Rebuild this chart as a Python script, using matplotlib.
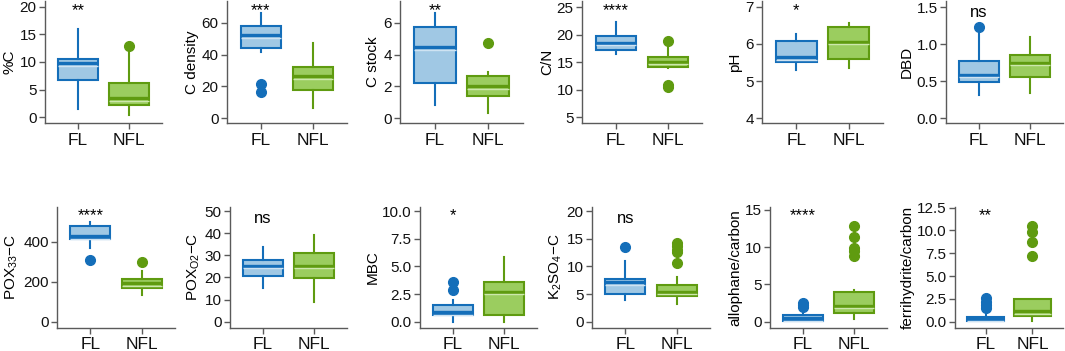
import matplotlib.pyplot as plt
from matplotlib.transforms import ScaledTranslation

plt.rcParams['font.family'] = ['Liberation Sans', 'DejaVu Sans']

groups = ['FL', 'NFL']
labels = ['%C', 'C density', 'C stock', 'C/N', 'pH', 'DBD',
          r'POX$_{\mathregular{33}}$−C', r'POX$_{\mathregular{O2}}$−C', 'MBC',
          r'K$_{\mathregular{2}}$SO$_{\mathregular{4}}$−C',
          'allophane/carbon', 'ferrihydrite/carbon']
signif = ['**', '***', '**', '****', '*', 'ns',
          '****', 'ns', '*', 'ns', '****', '**']

# [whisker low, q1, median, q3, whisker high]
fl_box = [
    [1.5, 6.8, 9.8, 10.6, 15.9],
    [41.8, 43.9, 52.0, 57.9, 65.9],
    [0.83, 2.24, 4.46, 5.75, 6.6],
    [16.4, 17.2, 18.5, 19.7, 22.2],
    [5.3, 5.52, 5.64, 6.09, 6.27],
    [0.31, 0.49, 0.59, 0.77, 1.20],
    [370, 413, 428, 480, 500],
    [15.1, 20.8, 25.3, 27.9, 33.9],
    [0.0, 0.6, 0.85, 1.5, 2.0],
    [3.9, 5.1, 7.1, 7.7, 11.0],
    [0.05, 0.13, 0.45, 0.9, 1.6],
    [0.05, 0.11, 0.33, 0.55, 1.0],
]
nfl_box = [
    [0.4, 2.2, 3.4, 6.2, 12.5],
    [6.3, 17.8, 26.5, 32.4, 47.5],
    [0.31, 1.4, 2.03, 2.66, 2.93],
    [14.0, 14.1, 15.1, 16.0, 18.5],
    [5.34, 5.59, 6.06, 6.45, 6.57],
    [0.34, 0.56, 0.75, 0.855, 1.10],
    [133, 170, 192, 213, 253],
    [9.0, 19.9, 25.3, 31.2, 39.2],
    [0.0, 0.6, 2.71, 3.61, 5.87],
    [3.14, 4.7, 5.42, 6.63, 8.13],
    [0.36, 1.13, 2.15, 4.03, 4.25],
    [0.1, 0.66, 1.17, 2.49, 2.5],
]
fl_out = [[], [21.5, 16.7], [], [], [], [1.23], [308], [], [3.56, 2.86],
          [13.55], [2.0, 2.2, 2.46], [1.5, 1.85, 2.2, 2.56]]
nfl_out = [[12.8], [], [4.75], [18.8, 10.8, 10.4], [], [], [297], [], [],
           [14.2, 13.7, 13.0, 12.6, 10.7], [12.85, 11.4, 9.85, 9.4, 8.8],
           [10.5, 9.8, 8.77, 7.2]]

yticks = [[0, 5, 10, 15, 20], [0, 20, 40, 60], [0, 2, 4, 6], [5, 10, 15, 20, 25],
          [4, 5, 6, 7], [0, 0.5, 1, 1.5], [0, 200, 400], [0, 10, 20, 30, 40, 50],
          [0, 2.5, 5, 7.5, 10], [0, 5, 10, 15, 20], [0, 5, 10, 15],
          [0, 2.5, 5, 7.5, 10, 12.5]]
decimals = [0, 0, 0, 0, 0, 1, 0, 0, 1, 0, 0, 1]
ylims = [(-1.1, 21.0), (-3.1, 73.6), (-0.31, 7.36), (3.9, 26.1), (3.87, 7.15),
         (-0.07, 1.585), (-30, 575), (-2.7, 52), (-0.54, 10.39), (-1.08, 20.8),
         (-0.81, 15.4), (-0.66, 12.6)]

# pixel layout of the plot areas (left, right) per row
W, H = 1065, 351
row_lr = [
    [(45, 162), (227, 347), (400, 523), (582, 702), (762, 883), (946, 1063)],
    [(57, 175), (230, 347), (420, 537), (592, 710), (770, 887), (955, 1063)],
]
row_tb = [(1, 123.3), (206.7, 327.7)]

blue, blue_fill, blue_hi = '#146eb9', '#a0c8e4', '#cfe3f2'
green, green_fill, green_hi = '#5f9b10', '#9bcd5f', '#cde8ac'
axis_col = '#5a5a5a'

fig = plt.figure(figsize=(W / 100, H / 100), dpi=100)


def draw_group(ax, pos, s, out, edge, fill, hi):
    st = [dict(whislo=s[0], q1=s[1], med=s[2], q3=s[3], whishi=s[4], fliers=out)]
    art = ax.bxp(st, positions=[pos], widths=0.78, patch_artist=True,
                 showcaps=False, manage_ticks=False,
                 boxprops=dict(facecolor=fill, edgecolor=edge, linewidth=1.5),
                 whiskerprops=dict(color=edge, linewidth=1.5),
                 medianprops=dict(color=edge, linewidth=2.4, solid_capstyle='butt'),
                 flierprops=dict(marker='o', markersize=7, markerfacecolor=edge,
                                 markeredgecolor=edge))
    for m in art['medians']:
        off = ax.transData + ScaledTranslation(0, -0.026, fig.dpi_scale_trans)
        ax.plot(m.get_xdata(), m.get_ydata(), color=hi, lw=1.0,
                solid_capstyle='butt', transform=off, zorder=m.get_zorder() + 0.1)


for i in range(12):
    r, c = divmod(i, 6)
    l, rgt = row_lr[r][c]
    t, b = row_tb[r]
    ax = fig.add_axes([l / W, 1 - b / H, (rgt - l) / W, (b - t) / H])
    draw_group(ax, 1, fl_box[i], fl_out[i], blue, blue_fill, blue_hi)
    draw_group(ax, 2, nfl_box[i], nfl_out[i], green, green_fill, green_hi)
    ax.set_xlim(0.35, 2.65)
    ax.set_ylim(*ylims[i])
    ax.set_xticks([1, 2])
    ax.set_xticklabels(groups, fontsize=12.5)
    ax.set_yticks(yticks[i])
    ax.set_yticklabels([f'{v:.{decimals[i]}f}' for v in yticks[i]], fontsize=11)
    ax.set_ylabel(labels[i], fontsize=11, labelpad=2)
    for side in ['top', 'right']:
        ax.spines[side].set_visible(False)
    for side in ['left', 'bottom']:
        ax.spines[side].set_color(axis_col)
        ax.spines[side].set_linewidth(1.0)
    ax.tick_params(colors=axis_col, length=4, width=1, labelcolor='#111111')
    ax.tick_params(axis='y', pad=2)
    ax.tick_params(axis='x', pad=3)
    if signif[i] == 'ns':
        ax.text(1, 0.905, 'ns', transform=ax.get_xaxis_transform(),
                ha='center', va='center', fontsize=12)
    else:
        ax.text(1, 0.985, signif[i], transform=ax.get_xaxis_transform(),
                ha='center', va='top', fontsize=12)

fig.savefig('out.png', dpi=100)
